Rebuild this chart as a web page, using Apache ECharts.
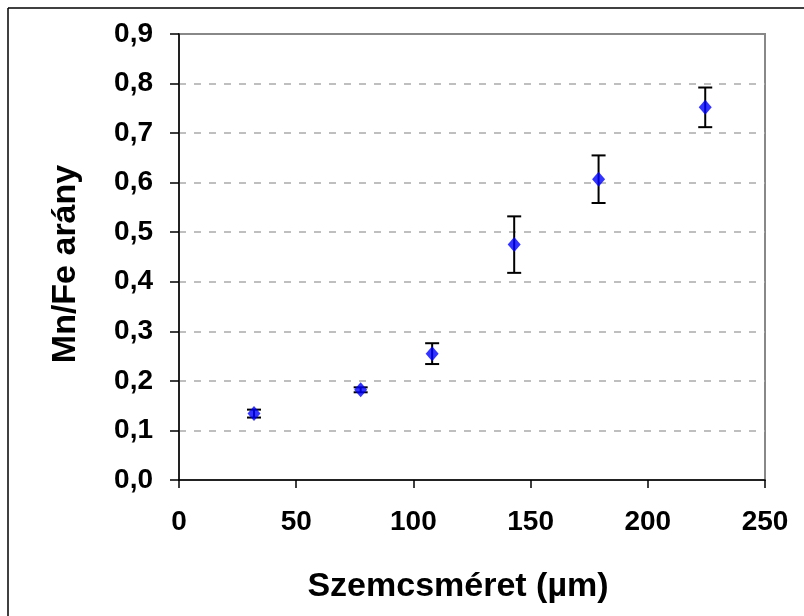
<!DOCTYPE html>
<html>
<head>
<meta charset="utf-8">
<script src="https://cdn.jsdelivr.net/npm/echarts@6/dist/echarts.min.js"></script>
<style>
  html, body { margin: 0; padding: 0; background: #fff; }
  #chart { width: 804px; height: 616px; }
</style>
</head>
<body>
<div id="chart"></div>
<script>
// grain size (µm) vs Mn/Fe ratio, with error (±)
const grainSize = [32, 77.5, 108, 143, 179, 224.5];
const ratio = [0.134, 0.182, 0.255, 0.475, 0.607, 0.752];
const ratioErr = [0.008, 0.005, 0.021, 0.057, 0.048, 0.040];

const fmtComma = v => v.toFixed(1).replace('.', ',');

const chart = echarts.init(document.getElementById('chart'));

const points = grainSize.map((x, i) => [x, ratio[i]]);
const bars = grainSize.map((x, i) => [x, ratio[i] - ratioErr[i], ratio[i] + ratioErr[i]]);

chart.setOption({
  animation: false,
  backgroundColor: '#fff',
  graphic: [
    { type: 'line', shape: { x1: 8, y1: 8, x2: 804, y2: 8 }, style: { stroke: '#000', lineWidth: 1.5 } },
    { type: 'line', shape: { x1: 8, y1: 8, x2: 8, y2: 616 }, style: { stroke: '#000', lineWidth: 1.5 } }
  ],
  grid: {
    left: 179, right: 39, top: 34, bottom: 136,
    show: true, borderColor: '#888', borderWidth: 2
  },
  xAxis: {
    type: 'value', min: 0, max: 250, interval: 50,
    name: 'Szemcsméret (µm)', nameLocation: 'middle', nameGap: 90,
    nameTextStyle: { fontFamily: 'Liberation Sans', fontWeight: 'bold', fontSize: 34, color: '#000', padding: [0, 28, 0, 0] },
    axisLine: { lineStyle: { color: '#000', width: 1.5 } },
    axisTick: { inside: false, length: 8, lineStyle: { color: '#000', width: 1.5 } },
    axisLabel: { margin: 28, fontFamily: 'Liberation Sans', fontWeight: 'bold', fontSize: 28, color: '#000' },
    splitLine: { show: false }
  },
  yAxis: {
    type: 'value', min: 0, max: 0.9, interval: 0.1,
    name: 'Mn/Fe arány', nameLocation: 'middle', nameGap: 96,
    nameTextStyle: { fontFamily: 'Liberation Sans', fontWeight: 'bold', fontSize: 34, color: '#000', padding: [0, 14, 0, 0] },
    axisLine: { lineStyle: { color: '#000', width: 1.5 } },
    axisTick: { inside: false, length: 9, lineStyle: { color: '#000', width: 1.5 } },
    axisLabel: { margin: 26, fontFamily: 'Liberation Sans', fontWeight: 'bold', fontSize: 28, color: '#000', formatter: fmtComma },
    splitLine: { show: true, showMinLine: false, showMaxLine: false, lineStyle: { color: '#aaa', type: [7, 8], width: 1.5 } }
  },
  series: [
    {
      type: 'custom',
      data: bars,
      z: 3,
      renderItem: function (params, api) {
        const x = api.value(0);
        const lo = api.coord([x, api.value(1)]);
        const hi = api.coord([x, api.value(2)]);
        const cap = 7;
        const style = { stroke: '#000', lineWidth: 2 };
        return {
          type: 'group',
          children: [
            { type: 'line', shape: { x1: lo[0], y1: lo[1], x2: hi[0], y2: hi[1] }, style: style },
            { type: 'line', shape: { x1: lo[0] - cap, y1: lo[1], x2: lo[0] + cap, y2: lo[1] }, style: style },
            { type: 'line', shape: { x1: hi[0] - cap, y1: hi[1], x2: hi[0] + cap, y2: hi[1] }, style: style }
          ]
        };
      }
    },
    {
      type: 'scatter',
      data: points,
      z: 4,
      symbol: 'diamond',
      symbolSize: [13, 15],
      itemStyle: { color: '#0000ff' }
    }
  ]
});
</script>
</body>
</html>
